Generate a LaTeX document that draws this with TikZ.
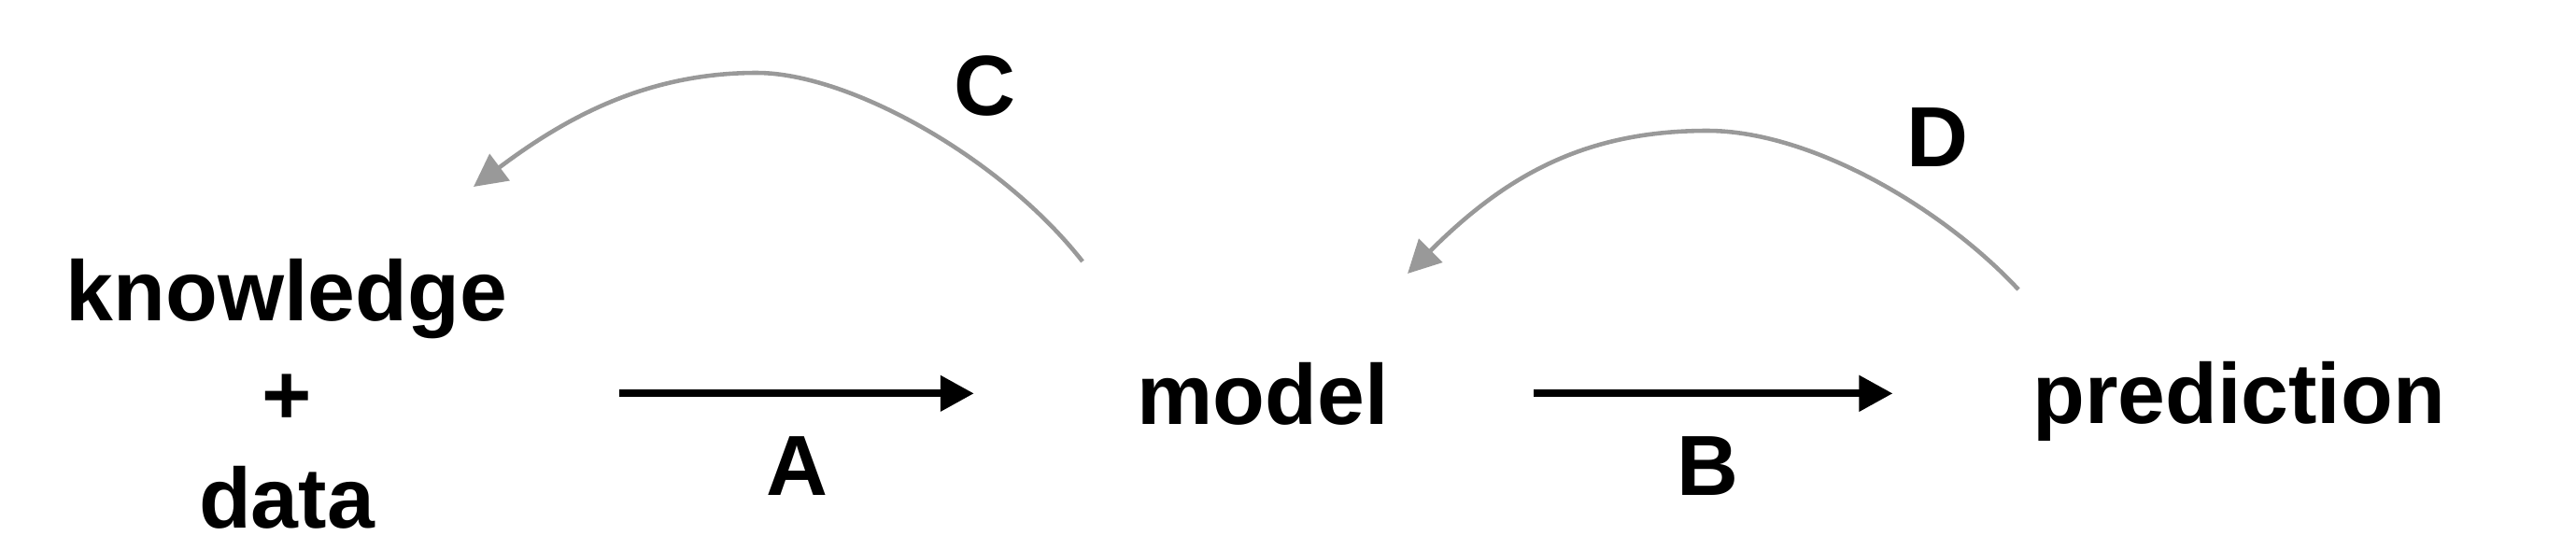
\documentclass[tikz,border=0pt]{standalone}
\usepackage{fontspec}
\setmainfont{Liberation Sans}
\usetikzlibrary{arrows.meta}

\begin{document}
\begin{tikzpicture}[
    word/.style={inner sep=0pt, anchor=base, font=\bfseries\fontsize{26}{31.5}\selectfont},
    flow/.style={line width=2.2pt, -{Triangle[length=3.6mm,width=3.7mm]}},
    back/.style={line width=1.3pt, black!40, -{Triangle[length=3.5mm,width=3.5mm]}}]
    \useasboundingbox (0,0) rectangle (27.58,5.88);
    % the three stages
    \node [word, align=center] (kd) at (3.07,0.23) {knowledge\\+\\data};
    \node [word] (model) at (13.52,1.34) {model};
    \node [word] (pred) at (23.97,1.35) {prediction};
    % forward steps
    \draw [flow, shorten <=1.19cm, shorten >=1.74cm] (kd.east |- model) -- (model);
    \draw [flow, shorten <=1.55cm, shorten >=1.49cm] (model) -- (pred.west |- model);
    \node [word] (la) at (8.53,0.58) {A};
    \node [word] (lb) at (18.28,0.58) {B};
    % feedback loops
    \coordinate (c0) at (11.59,3.08);
    \coordinate (c1) at (5.07,3.88);
    \coordinate (d0) at (21.61,2.78);
    \coordinate (d1) at (15.07,2.95);
    \draw [back] (c0) .. controls (10.73,4.18) and (9.10,5.10) .. (8.10,5.10)
                      .. controls (6.90,5.10) and (6.03,4.60) .. (c1);
    \draw [back] (d0) .. controls (20.79,3.66) and (19.38,4.48) .. (18.28,4.48)
                      .. controls (16.98,4.48) and (16.13,4.01) .. (d1);
    \node [word] (lc) at (10.54,4.65) {C};
    \node [word] (ld) at (20.74,4.10) {D};
\end{tikzpicture}
\end{document}
